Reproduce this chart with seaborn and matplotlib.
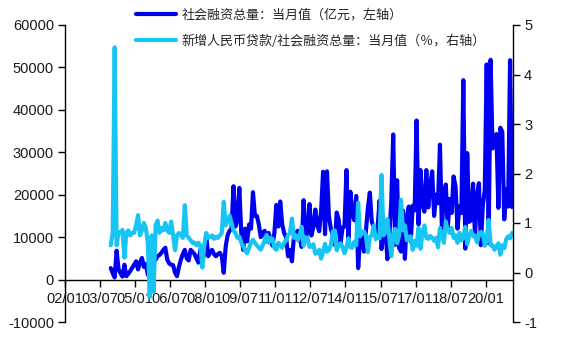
import matplotlib
matplotlib.use("Agg")
import numpy as np
import pandas as pd
import matplotlib.pyplot as plt
import seaborn as sns
from matplotlib.font_manager import FontProperties

# Monthly series, 2003/12 .. 2021/02
start_month = "2003-12"
end_month = "2021-02"

# 社会融资总量：当月值（亿元）
tsf = [
    2700,
    1500, 500, 6800, 2400, 1500, 700, 3500, 800, 1400, 2000, 2800, 3500,            # 2004
    4300, 2400, 4000, 5100, 3000, 3700, 1200, 500, 2400, 4000, 4700, 5500,          # 2005
    5800, 6300, 7000, 7500, 4700, 3800, 3500, 3400, 1600, 800, 3000, 4700,          # 2006
    6000, 7000, 5000, 4500, 7000, 6500, 6000, 5000, 4000, 7000, 4500, 6000,         # 2007
    10500, 5500, 6500, 7000, 6000, 5500, 6000, 6300, 5500, 1600, 7800, 10500,       # 2008
    11500, 12000, 22000, 12500, 14000, 21600, 11000, 7000, 12000, 9000, 13000, 12000,  # 2009
    20600, 15000, 15000, 13000, 10000, 11000, 11500, 9000, 11000, 9500, 8000, 11000,   # 2010
    17600, 12500, 18400, 13000, 11000, 10000, 5500, 7000, 4300, 10000, 11000, 11500,   # 2011
    9700, 7700, 18700, 9600, 11400, 17800, 10400, 12400, 16500, 12900, 11400, 16300,   # 2012
    25400, 10700, 25500, 14900, 11900, 10400, 8200, 15800, 14100, 8600, 12300, 12500,  # 2013
    25800, 9400, 20700, 15500, 14000, 19700, 2700, 9600, 10500, 6600, 11500, 16900,    # 2014
    20500, 13600, 12400, 10600, 12200, 18600, 7200, 10800, 13000, 4800, 10200, 18200,  # 2015
    34200, 8200, 23400, 7500, 6600, 16300, 4900, 14700, 17200, 9000, 17400, 16300,     # 2016
    37500, 13000, 25800, 18000, 16000, 25800, 17000, 22000, 25500, 15000, 20000, 18000,  # 2017
    31800, 12000, 20000, 22400, 12000, 19000, 15700, 24300, 21900, 12000, 17300, 15700,  # 2018
    47000, 7300, 29800, 13600, 14000, 22600, 10100, 19800, 22700, 8100, 17500, 21000,    # 2019
    50700, 8600, 51800, 30900, 31900, 34300, 16900, 35800, 34800, 14200, 21300, 17200,   # 2020
    51700, 17100,                                                                        # 2021
]

# 新增人民币贷款/社会融资总量：当月值
loan_share = [
    0.55,
    0.80, 4.55, 0.55, 0.82, 0.80, 0.86, 0.30, 0.80, 0.85, 0.75, 0.80, 0.80,   # 2004
    0.95, 1.16, 0.75, 0.85, 1.00, 0.90, 0.60, -0.50, 0.75, -0.40, 0.95, 1.05,  # 2005
    0.80, 0.90, 0.85, 1.00, 0.85, 0.80, 1.03, 0.75, 0.45, 0.75, 0.80, 0.75,   # 2006
    0.70, 1.36, 0.75, 0.70, 0.65, 0.60, 0.60, 0.55, 0.60, 0.55, 0.10, 0.55,   # 2007
    0.80, 0.70, 0.72, 0.75, 0.68, 0.72, 0.70, 0.75, 0.80, 1.43, 0.95, 1.05,   # 2008
    1.15, 1.00, 0.85, 0.80, 0.70, 0.72, 0.60, 0.53, 0.45, 0.39, 0.50, 0.60,   # 2009
    0.66, 0.60, 0.55, 0.50, 0.46, 0.55, 0.65, 0.76, 0.60, 0.70, 0.68, 0.50,   # 2010
    0.46, 0.60, 0.55, 0.50, 0.60, 0.65, 0.75, 0.80, 1.09, 0.70, 0.75, 0.65,   # 2011
    0.76, 0.92, 0.54, 0.71, 0.70, 0.52, 0.52, 0.57, 0.38, 0.39, 0.46, 0.28,   # 2012
    0.42, 0.58, 0.42, 0.45, 0.56, 0.83, 0.85, 0.45, 0.56, 0.59, 0.51, 0.39,   # 2013
    0.51, 0.69, 0.51, 0.50, 0.62, 0.55, 1.41, 0.73, 0.82, 0.83, 0.74, 0.41,   # 2014
    0.72, 0.75, 0.95, 0.67, 0.74, 0.69, 1.97, 0.75, 0.81, 1.08, 0.70, 0.33,   # 2015
    0.73, 0.88, 0.59, 0.74, 1.47, 0.85, 0.95, 0.65, 0.71, 0.73, 0.46, 0.64,   # 2016
    0.54, 0.90, 0.48, 0.79, 0.95, 0.70, 0.68, 0.74, 0.70, 0.64, 0.70, 0.51,   # 2017
    0.90, 0.75, 0.60, 1.03, 0.85, 0.80, 0.90, 0.70, 0.75, 0.60, 0.80, 0.65,   # 2018
    0.70, 0.92, 0.57, 0.75, 0.84, 0.73, 0.75, 0.61, 0.74, 0.82, 0.79, 0.54,   # 2019
    0.66, 1.06, 0.55, 0.55, 0.46, 0.53, 0.59, 0.36, 0.55, 0.49, 0.67, 0.73,   # 2020
    0.69, 0.80,                                                               # 2021
]

tick_labels = ["02/01", "03/07", "05/01", "06/07", "08/01", "09/07", "11/01",
               "12/07", "14/01", "15/07", "17/01", "18/07", "20/01"]

series_names = ["社会融资总量：当月值（亿元，左轴）",
                "新增人民币贷款/社会融资总量：当月值（％，右轴）"]

# category positions: months since 2002/01, centred in each month slot
months = pd.period_range(start_month, end_month, freq="M")
pos = np.array([(p.year - 2002) * 12 + p.month - 1 for p in months]) + 0.5
df = pd.DataFrame({"pos": pos, "tsf": tsf, "share": loan_share})

sns.set_style("white")
plt.rcParams["font.family"] = ["Liberation Sans", "Noto Sans CJK SC", "DejaVu Sans"]
plt.rcParams["axes.unicode_minus"] = False

dark_blue = "#0000F0"
light_blue = "#17C5F4"
text_color = "#1a1a1a"

fig = plt.figure(figsize=(5.63, 3.44), dpi=100)
ax = fig.add_axes([65 / 563, 1 - 322 / 344, (513 - 65) / 563, (322 - 25) / 344])
ax2 = ax.twinx()

sns.lineplot(data=df, x="pos", y="tsf", ax=ax, color=dark_blue, lw=3.0,
             legend=False)
sns.lineplot(data=df, x="pos", y="share", ax=ax2, color=light_blue, lw=3.0,
             legend=False)

ax.set_xlim(0, 230)
ax.set_ylim(-10000, 60000)
ax2.set_ylim(-1, 5)
ax.set_yticks(np.arange(-10000, 60001, 10000))
ax2.set_yticks(np.arange(-1, 6, 1))
ax.set_xticks(np.arange(0, 217, 18))
ax.set_xticklabels(tick_labels)
ax.set_xlabel("")
ax.set_ylabel("")
ax2.set_ylabel("")

for a in (ax, ax2):
    for s in a.spines.values():
        s.set_color("black")
        s.set_linewidth(1.0)
ax.spines["top"].set_visible(False)
ax.spines["right"].set_visible(False)
ax.spines["bottom"].set_position(("data", 0))
ax2.spines["top"].set_visible(False)
ax2.spines["left"].set_visible(False)
ax2.spines["bottom"].set_visible(False)

ax.tick_params(axis="y", direction="out", length=5, width=1, colors="black",
               labelcolor=text_color, labelsize=10.5, pad=3, left=True)
ax.tick_params(axis="x", direction="out", length=5, width=1, colors="black",
               labelcolor=text_color, labelsize=10.5, pad=4, bottom=True)
ax2.tick_params(axis="y", direction="out", length=5, width=1, colors="black",
                labelcolor=text_color, labelsize=10.5, pad=3, right=True)
ax.grid(False)
ax2.grid(False)

handles = [ax.get_lines()[0], ax2.get_lines()[0]]
fig.legend(handles, series_names, loc="upper left",
           bbox_to_anchor=(136 / 563, 1 - 9 / 344), frameon=False,
           prop=FontProperties(family=["Noto Sans CJK SC"], size=9.4),
           handlelength=3.1, handletextpad=0.4, labelspacing=0.95,
           borderpad=0, borderaxespad=0)

fig.savefig("out.png", dpi=100)
